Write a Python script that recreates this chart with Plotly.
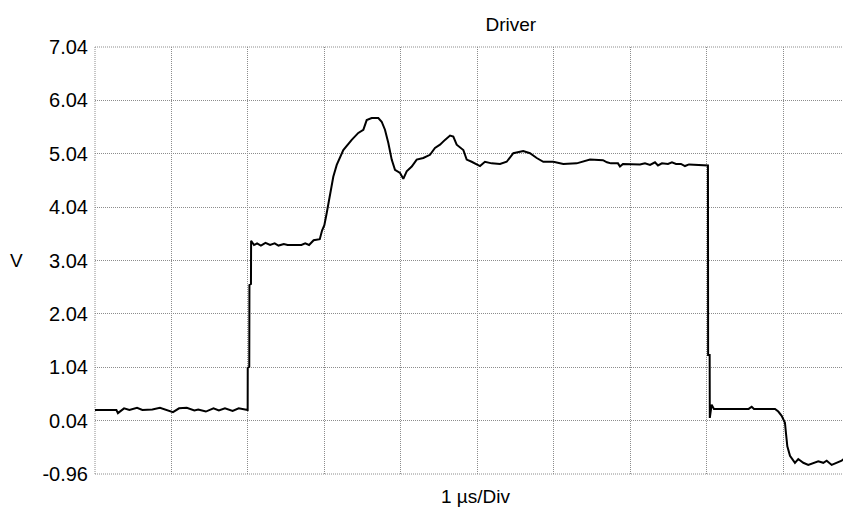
import plotly.graph_objects as go

# Time in microseconds (1 µs per division), voltage in volts
time_us = [
    0.00, 0.28, 0.30, 0.38, 0.45, 0.55, 0.62, 0.75, 0.85, 0.95, 1.02, 1.10,
    1.20, 1.30, 1.35, 1.45, 1.55, 1.62, 1.70, 1.80, 1.88, 1.997,
    1.998, 2.018, 2.020, 2.040, 2.042,
    2.08, 2.12, 2.17, 2.23, 2.29, 2.35, 2.40, 2.47, 2.52, 2.60, 2.70, 2.75,
    2.80, 2.86, 2.94, 2.97, 3.00,
    3.031, 3.074, 3.117, 3.162, 3.248, 3.358, 3.444, 3.510, 3.554, 3.619,
    3.706, 3.750, 3.793, 3.837, 3.881, 3.924, 3.990, 4.033, 4.077, 4.143,
    4.208, 4.294, 4.382, 4.447, 4.513, 4.578, 4.644, 4.687, 4.731, 4.818,
    4.862, 4.927, 5.036, 5.101, 5.189, 5.298, 5.385, 5.472, 5.602, 5.690,
    5.778, 5.864, 5.995, 6.126, 6.301, 6.475, 6.606,
    6.645, 6.697, 6.749, 6.841, 6.867, 6.906, 6.972, 7.129, 7.194, 7.260,
    7.325, 7.364, 7.416, 7.495, 7.547, 7.600, 7.665, 7.717, 7.770, 8.000,
    8.018, 8.020, 8.040, 8.042, 8.066, 8.096, 8.55, 8.59, 8.62, 8.895,
    8.938, 8.982, 9.025, 9.038, 9.056, 9.091, 9.156, 9.199, 9.265, 9.330,
    9.461, 9.527, 9.571, 9.636, 9.702, 9.767, 9.832, 9.889,
]
voltage_v = [
    0.24, 0.24, 0.18, 0.27, 0.24, 0.28, 0.24, 0.25, 0.28, 0.23, 0.20, 0.27,
    0.28, 0.23, 0.25, 0.21, 0.27, 0.23, 0.27, 0.22, 0.27, 0.24,
    1.03, 1.05, 2.58, 2.60, 3.41,
    3.33, 3.36, 3.32, 3.37, 3.33, 3.36, 3.32, 3.35, 3.33, 3.33, 3.33, 3.36,
    3.33, 3.42, 3.44, 3.60, 3.70,
    3.93, 4.30, 4.61, 4.83, 5.11, 5.30, 5.43, 5.49, 5.67, 5.71,
    5.71, 5.64, 5.49, 5.24, 4.93, 4.74, 4.68, 4.57, 4.71, 4.80,
    4.93, 4.96, 5.02, 5.15, 5.21, 5.30, 5.38, 5.36, 5.21, 5.11,
    4.93, 4.89, 4.81, 4.89, 4.86, 4.85, 4.89, 5.05, 5.09, 5.05,
    4.96, 4.89, 4.89, 4.85, 4.86, 4.93, 4.93,
    4.92, 4.88, 4.86, 4.86, 4.80, 4.85, 4.85, 4.84, 4.86, 4.83,
    4.88, 4.82, 4.86, 4.85, 4.88, 4.85, 4.85, 4.81, 4.84, 4.82,
    4.82, 1.27, 1.27, 0.09, 0.34, 0.26, 0.26, 0.30, 0.26, 0.26,
    0.21, 0.13, 0.00, -0.19, -0.44, -0.62, -0.75, -0.68, -0.75, -0.79,
    -0.72, -0.75, -0.71, -0.79, -0.75, -0.71, -0.63, -0.63,
]

y_ticks = [-0.96, 0.04, 1.04, 2.04, 3.04, 4.04, 5.04, 6.04, 7.04]
y_tick_labels = ["-0.96", "0.04", "1.04", "2.04", "3.04", "4.04", "5.04", "6.04", "7.04"]
x_divs = [0, 1, 2, 3, 4, 5, 6, 7, 8, 9]

title_text = "Driver"
x_label = "1 µs/Div"
y_label = "V"

GRID_COLOR = "#8c8c8c"
GRID_DASH = "1px,1px"

fig = go.Figure()
fig.add_trace(go.Scatter(
    x=time_us, y=voltage_v, mode="lines",
    line=dict(color="black", width=2), showlegend=False, hoverinfo="skip",
))

grid = dict(showgrid=True, gridcolor=GRID_COLOR, griddash=GRID_DASH, gridwidth=1,
            zeroline=False, showline=False, automargin=False)

# dotted frame on left, top and bottom (right side is cut by the image edge)
frame = [
    dict(type="line", xref="paper", yref="paper", x0=0, x1=0, y0=0, y1=1),
    dict(type="line", xref="paper", yref="paper", x0=0, x1=1, y0=1, y1=1),
    dict(type="line", xref="paper", yref="paper", x0=0, x1=1, y0=0, y1=0),
]
for s in frame:
    s["line"] = dict(color=GRID_COLOR, width=1, dash=GRID_DASH)
    s["layer"] = "below"

# page body has an 8px margin, so the figure is offset by 8px right/down
fig.update_layout(
    width=851, height=510,
    margin=dict(l=87, r=8, t=39, b=44, autoexpand=False),
    paper_bgcolor="white", plot_bgcolor="white",
    font=dict(family="Liberation Sans, Arial, sans-serif", color="black"),
    title=dict(text=title_text, x=468 / 851, xanchor="center", xref="paper",
               y=1 - 16 / 510, yanchor="middle", yref="container",
               font=dict(size=19, family="Liberation Sans, Arial, sans-serif"),
               automargin=False),
    xaxis=dict(range=[0, 9.889], tickvals=x_divs, showticklabels=False, ticks="", **grid),
    yaxis=dict(range=[-0.96, 7.04], tickvals=y_ticks, ticktext=y_tick_labels, ticks="",
               ticklabelstandoff=6,
               tickfont=dict(size=20, family="Liberation Sans Narrow, Liberation Sans, Arial"),
               **grid),
    shapes=frame,
    annotations=[
        dict(text=x_label, xref="paper", yref="paper", x=(476 - 95) / 756, y=0,
             xanchor="center", yanchor="middle", yshift=-22, showarrow=False,
             font=dict(size=19)),
        dict(text=y_label, xref="paper", yref="y", x=0, y=3.04,
             xanchor="center", yanchor="middle", xshift=-79, showarrow=False,
             font=dict(size=19)),
    ],
)

fig.write_html("out.html")
